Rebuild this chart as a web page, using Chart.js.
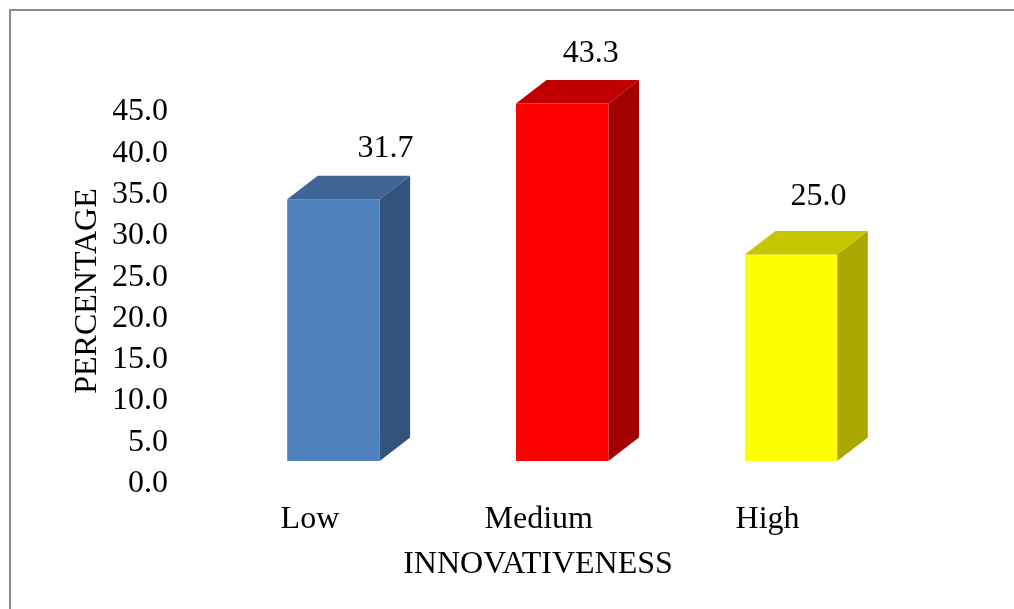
<!DOCTYPE html>
<html>
<head>
<meta charset="utf-8">
<script src="https://cdn.jsdelivr.net/npm/chart.js@4/dist/chart.umd.min.js"></script>
<style>
  html, body { margin: 0; padding: 0; background: #ffffff; overflow: hidden; }
  #frame { position: absolute; left: 9px; top: 9px; width: 1100px; height: 700px; border: 2px solid #8a8a8a; }
  #wrap { position: absolute; left: 0; top: 0; width: 1014px; height: 609px; }
</style>
</head>
<body>
<div id="frame"></div>
<div id="wrap"><canvas id="chart" width="1014" height="609"></canvas></div>
<script>
// Share of respondents by innovativeness level
const categories = ['Low', 'Medium', 'High'];
const percentages = [31.7, 43.3, 25.0];
const yTickValues = [0, 5, 10, 15, 20, 25, 30, 35, 40, 45];
const xAxisTitle = 'INNOVATIVENESS';
const yAxisTitle = 'PERCENTAGE';

// Face colours for the box-shaped bars
const frontColors = ['#4f81bd', '#ff0000', '#ffff00'];
const topColors = ['#3e6596', '#c00000', '#c6c600'];
const sideColors = ['#32537b', '#a30000', '#a8a800'];

const FONT = '"Liberation Serif", "Times New Roman", serif';
const FONT_SIZE = 32;
const DEPTH_X = 30.5;
const DEPTH_Y = 23.5;

// Draws the top and side faces of each bar next to its front face, then the value labels
const boxBars = {
  id: 'boxBars',
  afterDatasetsDraw(chart, args, opts) {
    const ctx = chart.ctx;
    const meta = chart.getDatasetMeta(0);
    meta.data.forEach((bar, i) => {
      const p = bar.getProps(['x', 'y', 'base', 'width'], true);
      const left = p.x - p.width / 2;
      const right = p.x + p.width / 2;
      const top = p.y;
      const base = p.base;
      ctx.save();
      // side face
      ctx.fillStyle = sideColors[i];
      ctx.beginPath();
      ctx.moveTo(right, top);
      ctx.lineTo(right + DEPTH_X, top - DEPTH_Y);
      ctx.lineTo(right + DEPTH_X, base - DEPTH_Y);
      ctx.lineTo(right, base);
      ctx.closePath();
      ctx.fill();
      // top face
      ctx.fillStyle = topColors[i];
      ctx.beginPath();
      ctx.moveTo(left, top);
      ctx.lineTo(right, top);
      ctx.lineTo(right + DEPTH_X, top - DEPTH_Y);
      ctx.lineTo(left + DEPTH_X, top - DEPTH_Y);
      ctx.closePath();
      ctx.fill();
      // value label
      const off = opts.labelOffsets[i];
      ctx.fillStyle = '#000000';
      ctx.font = FONT_SIZE + 'px ' + FONT;
      ctx.textAlign = 'center';
      ctx.textBaseline = 'middle';
      ctx.fillText(percentages[i].toFixed(1), p.x + off[0], top + off[1]);
      ctx.restore();
    });
  }
};

// Axis titles, placed under the category labels and beside the value ticks
const axisTitles = {
  id: 'axisTitles',
  afterDraw(chart, args, opts) {
    const ctx = chart.ctx;
    ctx.save();
    ctx.fillStyle = '#000000';
    ctx.font = FONT_SIZE + 'px ' + FONT;
    ctx.textAlign = 'center';
    ctx.textBaseline = 'middle';
    ctx.fillText(xAxisTitle, opts.x.cx, opts.x.cy);
    ctx.translate(opts.y.cx, opts.y.cy);
    ctx.rotate(-Math.PI / 2);
    ctx.fillText(yAxisTitle, 0, 0);
    ctx.restore();
  }
};

new Chart(document.getElementById('chart'), {
  type: 'bar',
  data: {
    labels: categories,
    datasets: [{
      data: percentages,
      backgroundColor: frontColors,
      borderWidth: 0,
      categoryPercentage: 1.0,
      barPercentage: 0.404
    }]
  },
  options: {
    responsive: false,
    animation: false,
    events: [],
    layout: { padding: { left: 113, right: 108.5, top: 89.5, bottom: 0 } },
    plugins: {
      legend: { display: false },
      tooltip: { enabled: false },
      boxBars: { labelOffsets: [[52, -51], [28.5, -50], [27.5, -58.5]] },
      axisTitles: { x: { cx: 538, cy: 564.5 }, y: { cx: 87.5, cy: 291 } }
    },
    scales: {
      x: {
        grid: { display: false, drawTicks: false },
        border: { display: false },
        ticks: {
          color: '#000000',
          font: { family: FONT, size: FONT_SIZE },
          padding: 39.4,
          labelOffset: -23.5,
          maxRotation: 0,
          autoSkip: false
        },
        afterFit(scale) { scale.height = 148; }
      },
      y: {
        min: 0,
        max: 45,
        grid: { display: false, drawTicks: false },
        border: { display: false },
        afterBuildTicks(scale) { scale.ticks = yTickValues.map(v => ({ value: v })); },
        ticks: {
          color: '#000000',
          font: { family: FONT, size: FONT_SIZE },
          padding: 51,
          labelOffset: 22.5,
          autoSkip: false,
          callback: (v) => Number(v).toFixed(1)
        },
        afterFit(scale) { scale.width = 106; }
      }
    }
  },
  plugins: [boxBars, axisTitles]
});
</script>
</body>
</html>
